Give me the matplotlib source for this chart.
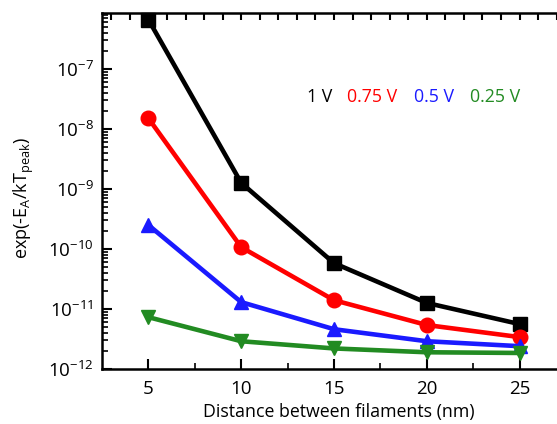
import matplotlib
matplotlib.use("Agg")
import matplotlib.pyplot as plt
import numpy as np
from matplotlib.ticker import FixedLocator, NullFormatter, FuncFormatter

plt.rcParams['font.family'] = ['Open Sans', 'DejaVu Sans']
plt.rcParams['mathtext.fontset'] = 'custom'
plt.rcParams['mathtext.rm'] = 'Open Sans'
plt.rcParams['mathtext.it'] = 'Open Sans'

distance = [5, 10, 15, 20, 25]
v1 = [6.6e-7, 1.26e-9, 5.8e-11, 1.26e-11, 5.6e-12]
v075 = [1.5e-8, 1.07e-10, 1.4e-11, 5.4e-12, 3.4e-12]
v05 = [2.5e-10, 1.3e-11, 4.6e-12, 2.9e-12, 2.4e-12]
v025 = [7.3e-12, 2.9e-12, 2.2e-12, 1.9e-12, 1.85e-12]
labels = ['1 V', '0.75 V', '0.5 V', '0.25 V']
colors = ['black', '#ff0000', '#1a1aff', '#228b22']
markers = ['s', 'o', '^', 'v']
y_decades = [-12, -11, -10, -9, -8, -7]

W, H = 557, 424
fig = plt.figure(figsize=(W/100, H/100), dpi=100)
ax = fig.add_axes([102/W, 55/H, (566-102)/W, (369-13)/H])

series = [v1, v075, v05, v025]
for ys, c, m in zip(series, colors, markers):
    ax.plot(distance, ys, color=c, marker=m, lw=3.3, ms=10.5, clip_on=False, zorder=3)

ax.set_yscale('log')
ax.set_xlim(2.5, 27.5)
ax.set_ylim(1e-12, 10**-6.07)
major_y = [10.0**d for d in y_decades]
minor_y = [k * 10.0**d for d in y_decades for k in range(2, 10) if k * 10.0**d < 10**-6.07]
ax.yaxis.set_major_locator(FixedLocator(major_y))
ax.yaxis.set_minor_locator(FixedLocator(minor_y))
ax.yaxis.set_minor_formatter(NullFormatter())
ax.yaxis.set_major_formatter(FuncFormatter(lambda v, p: r'$10^{%d}$' % int(round(np.log10(v)))))
ax.xaxis.set_major_locator(FixedLocator(distance))
ax.xaxis.set_minor_locator(FixedLocator([7.5, 12.5, 17.5, 22.5]))

ax.tick_params(axis='both', which='major', direction='in', length=7, width=1.5, labelsize=13.5, pad=8)
ax.tick_params(axis='both', which='minor', direction='in', length=4, width=1.2)
ax.tick_params(axis='y', which='major', pad=6)
ax.tick_params(top=False, right=False, which='both')

for s in ['left', 'bottom', 'top']:
    ax.spines[s].set_linewidth(1.8)
ax.spines['right'].set_visible(False)

# top ticks at every unit
axt = ax.twiny()
axt.set_xlim(ax.get_xlim())
axt.set_xticks(np.arange(3, 28, 1))
axt.tick_params(axis='x', direction='in', length=5, width=1.5, labeltop=False, labelbottom=False)
for s in axt.spines.values():
    s.set_visible(False)

ax.set_xlabel('Distance between filaments (nm)', fontsize=12.8)
ax.xaxis.set_label_coords((339 - 102) / 464, -(412 - 369) / 356)
ax.xaxis.label.set_va('center')
ax.set_ylabel(r'exp(-E$_\mathrm{A}$/kT$_\mathrm{peak}$)', fontsize=13)
ax.yaxis.set_label_coords((36 - 102) / 464, (369 - 198) / 356)

xs = [307, 347, 414, 470]
for t, c, x in zip(labels, colors, xs):
    fig.text(x/W, 1 - 97/H, t, color=c, fontsize=12.8, va='center', ha='left')

fig.savefig('out.png', dpi=100)
